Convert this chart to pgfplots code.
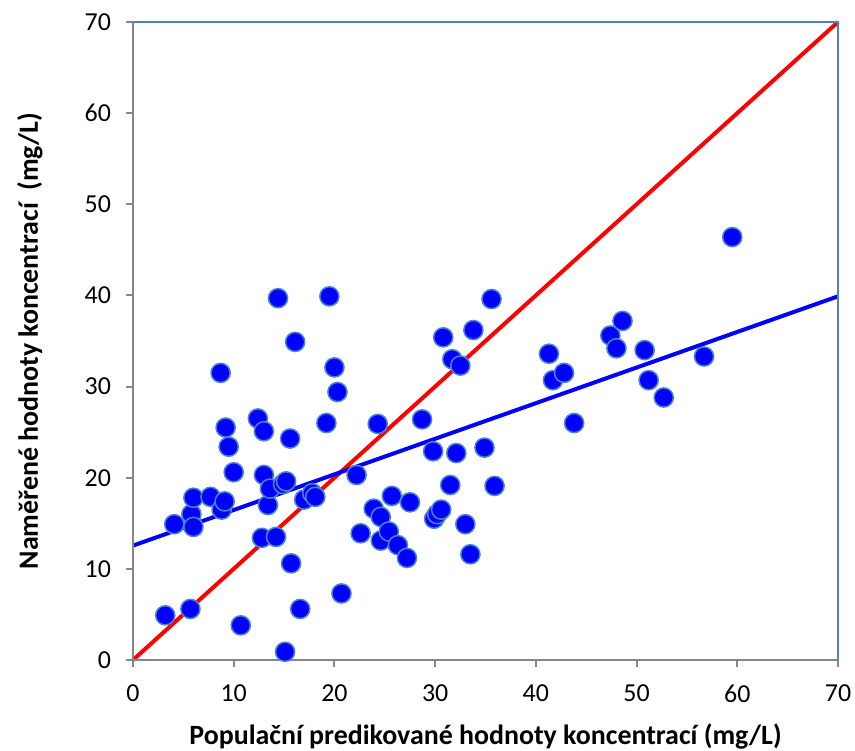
\documentclass[border=0pt]{standalone}
\usepackage{fontspec}
\setmainfont{Carlito}
\usepackage{pgfplots}
\usepackage{pgfplotstable}
\pgfplotsset{compat=1.18}
\definecolor{mk}{RGB}{0,0,255}
\definecolor{mkedge}{RGB}{74,134,200}
\definecolor{axgray}{RGB}{134,134,134}
\definecolor{frameblue}{RGB}{79,129,189}

\pgfplotstableread{
x y
3.2 4.9
5.7 5.6
4.1 14.9
5.8 16.0
6.0 14.6
6.0 17.8
7.7 17.9
8.8 16.5
9.1 17.4
8.7 31.5
9.2 25.5
9.5 23.4
10.0 20.6
10.7 3.8
12.4 26.5
13.0 25.1
13.0 20.3
13.4 17.0
13.6 18.8
12.8 13.4
14.2 13.5
14.4 39.7
14.9 19.3
15.2 19.6
15.6 24.3
15.7 10.6
15.1 0.9
16.1 34.9
16.6 5.6
17.0 17.6
17.8 18.3
18.1 17.9
19.5 39.9
19.2 26.0
20.0 32.1
20.3 29.4
20.7 7.3
22.2 20.3
22.6 13.9
23.9 16.6
24.3 25.9
24.6 15.7
24.6 13.1
25.4 14.1
25.7 18.0
26.3 12.6
27.2 11.2
27.5 17.3
28.7 26.4
29.8 22.9
29.9 15.5
30.2 16.0
30.6 16.5
30.8 35.4
31.5 19.2
31.7 33.0
32.1 22.7
32.5 32.3
33.0 14.9
33.5 11.6
33.8 36.2
34.9 23.3
35.6 39.6
35.9 19.1
41.3 33.6
41.7 30.7
42.8 31.5
43.8 26.0
47.4 35.6
48.0 34.2
48.6 37.2
50.8 34.0
51.2 30.7
52.7 28.8
56.7 33.3
59.5 46.4
}\pts

\begin{document}
\begin{tikzpicture}
\begin{axis}[
  scale only axis, width=352.5bp, height=319bp,
  xmin=0, xmax=70, ymin=0, ymax=70,
  xtick={0,10,...,70}, ytick={0,10,...,70},
  axis line style={draw=none},
  tick align=outside, xtick pos=bottom, ytick pos=left,
  major tick length=3.5bp,
  tick style={axgray, line width=1bp},
  ticklabel style={font=\fontsize{13}{15}\selectfont},
  xticklabel style={yshift=-5.5bp},
  yticklabel style={xshift=-4bp},
  /pgf/number format/assume math mode=true,
  xlabel={Populační predikované hodnoty koncentrací (mg/L)},
  ylabel={Naměřené hodnoty koncentrací\ \ (mg/L)},
  every axis x label/.style={at={([yshift=-38.5bp]axis description cs:0.5,0)}, anchor=center, font=\bfseries\fontsize{14}{16}\selectfont},
  every axis y label/.style={at={([xshift=-51.5bp]axis description cs:0,0.5)}, anchor=center, rotate=90, font=\bfseries\fontsize{14}{16}\selectfont},
  clip=false,
]
\addplot[red, line width=2bp] coordinates {(0,0) (70,70)};
\addplot[blue, line width=2bp] coordinates {(0,12.55) (70,39.9)};
\addplot[only marks, mark=*, mark size=4.8bp, mark options={fill=mk, draw=mkedge, line width=0.75bp}] table {\pts};
\draw[axgray, line width=1bp] (rel axis cs:0,1) -- (rel axis cs:0,0) -- (rel axis cs:1,0);
\draw[frameblue, line width=0.6bp] (rel axis cs:0,1) -- (rel axis cs:1,1) -- (rel axis cs:1,0);
\coordinate (ll) at (rel axis cs:0,0);
\coordinate (ur) at (rel axis cs:1,1);
\end{axis}
\pgfresetboundingbox
\path ([shift={(-66.5bp,-45.5bp)}]ll) rectangle ([shift={(8.5bp,11bp)}]ur);
\end{tikzpicture}
\end{document}
